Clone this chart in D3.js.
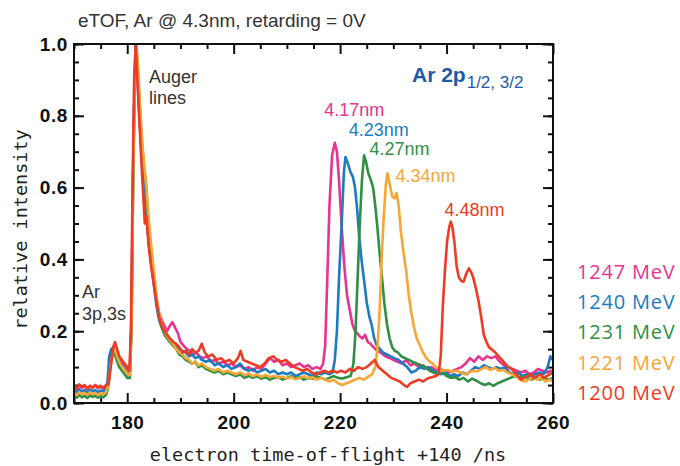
<!DOCTYPE html>
<html>
<head>
<meta charset="utf-8">
<script src="https://d3js.org/d3.v7.min.js"></script>
<style>
body { margin: 0; background: #fff; }
.tick text { font-family: "Liberation Sans", Arial, sans-serif; font-weight: bold; font-size: 19px; fill: #111; letter-spacing: 0.6px; }
.axis path { display: none; }
.axis line { stroke: #111; stroke-width: 2; }
</style>
</head>
<body>
<svg width="680" height="466"></svg>
<script>
'use strict';

// energies / wavelengths, one per trace
const energies = ["1247 MeV", "1240 MeV", "1231 MeV", "1221 MeV", "1200 MeV"];
const wavelengths = ["4.17nm", "4.23nm", "4.27nm", "4.34nm", "4.48nm"];
const colors = ["#e6348f", "#1c7bc1", "#2f8f44", "#f8a635", "#ec3c24"];

const xTicks = [180, 200, 220, 240, 260];
const yTicks = [0.0, 0.2, 0.4, 0.6, 0.8, 1.0];

// traces: [time-of-flight, relative intensity]
const trace1247 = [[170,0.045],[170.5,0.038],[171,0.05],[171.5,0.042],[172,0.047],[172.5,0.04],[173,0.048],[173.5,0.043],[174,0.05],[174.5,0.041],[175,0.046],[175.5,0.04],[176,0.047],[176.4,0.05],[176.8,0.11],[177.1,0.145],[177.5,0.16],[177.9,0.14],[178.3,0.125],[178.8,0.115],[179.2,0.11],[179.7,0.1],[180.1,0.09],[180.5,0.09],[180.8,0.25],[181.1,0.65],[181.4,0.92],[181.6,1.0],[181.9,0.92],[182.3,0.8],[182.7,0.69],[183.1,0.63],[183.5,0.55],[184,0.46],[184.5,0.4],[185,0.34],[185.5,0.29],[186,0.25],[186.5,0.23],[187,0.215],[187.5,0.2],[188,0.215],[188.5,0.225],[189,0.21],[189.5,0.195],[190,0.17],[190.6,0.16],[191.2,0.15],[191.8,0.145],[192.4,0.135],[193,0.14],[193.6,0.13],[194.2,0.125],[195,0.13],[195.7,0.115],[196.4,0.12],[197.2,0.11],[198,0.115],[198.8,0.105],[199.6,0.11],[200.4,0.1],[201.2,0.105],[202,0.095],[202.8,0.1],[203.6,0.09],[204.4,0.1],[205.2,0.095],[206,0.11],[206.8,0.125],[207.6,0.115],[208.4,0.12],[209.2,0.105],[210,0.11],[210.8,0.1],[211.6,0.105],[212.4,0.11],[213.2,0.1],[214,0.105],[214.8,0.095],[215.6,0.1],[216.3,0.095],[216.8,0.11],[217.2,0.16],[217.6,0.35],[218,0.55],[218.5,0.69],[219,0.725],[219.4,0.7],[219.8,0.62],[220.3,0.49],[220.8,0.38],[221.3,0.3],[221.8,0.26],[222.3,0.22],[222.8,0.2],[223.2,0.195],[223.7,0.185],[224.2,0.18],[224.7,0.19],[225.2,0.17],[225.7,0.165],[226.3,0.155],[227,0.145],[227.7,0.14],[228.5,0.13],[229.3,0.125],[230,0.12],[230.8,0.115],[231.6,0.11],[232.4,0.12],[233.2,0.105],[234,0.11],[234.8,0.1],[235.6,0.105],[236.4,0.095],[237.2,0.1],[238,0.09],[238.8,0.095],[239.6,0.09],[240.4,0.085],[241.2,0.09],[242,0.095],[242.8,0.1],[243.6,0.11],[244.4,0.125],[245.2,0.115],[246,0.13],[246.8,0.12],[247.6,0.13],[248.4,0.125],[249.2,0.13],[250,0.115],[250.8,0.105],[251.6,0.1],[252.4,0.095],[253.2,0.09],[254,0.085],[254.8,0.09],[255.6,0.08],[256.4,0.085],[257.2,0.095],[258,0.09],[258.8,0.085],[259.6,0.09],[260,0.085]];

const trace1240 = [[170,0.035],[170.5,0.03],[171,0.038],[171.5,0.032],[172,0.036],[172.5,0.03],[173,0.037],[173.5,0.033],[174,0.036],[174.5,0.03],[175,0.035],[175.5,0.032],[176,0.04],[176.3,0.06],[176.6,0.13],[177,0.15],[177.4,0.155],[177.8,0.14],[178.2,0.125],[178.7,0.11],[179.2,0.1],[179.7,0.09],[180.1,0.08],[180.5,0.085],[180.8,0.22],[181.1,0.62],[181.4,0.9],[181.6,1.0],[181.9,0.93],[182.3,0.8],[182.7,0.69],[183.1,0.62],[183.5,0.54],[184,0.46],[184.5,0.39],[185,0.33],[185.5,0.27],[186,0.23],[186.5,0.21],[187,0.2],[187.5,0.19],[188,0.18],[188.6,0.17],[189.2,0.16],[189.8,0.15],[190.4,0.145],[191,0.14],[191.6,0.13],[192.2,0.135],[192.8,0.125],[193.4,0.13],[194,0.12],[194.8,0.115],[195.6,0.12],[196.4,0.105],[197.2,0.11],[198,0.1],[198.8,0.105],[199.6,0.095],[200.4,0.1],[201.2,0.11],[202,0.095],[202.8,0.09],[203.6,0.095],[204.4,0.085],[205.2,0.09],[206,0.095],[206.8,0.085],[207.6,0.09],[208.4,0.08],[209.2,0.085],[210,0.08],[210.8,0.085],[211.6,0.075],[212.4,0.08],[213.2,0.085],[214,0.08],[214.8,0.075],[215.6,0.085],[216.4,0.08],[217.2,0.085],[218,0.08],[218.6,0.085],[219,0.12],[219.4,0.2],[219.8,0.35],[220.3,0.5],[220.7,0.64],[221,0.685],[221.4,0.67],[221.9,0.645],[222.4,0.63],[222.8,0.6],[223.2,0.54],[223.6,0.46],[224.1,0.39],[224.6,0.33],[225,0.28],[225.5,0.24],[225.9,0.22],[226.4,0.18],[226.9,0.16],[227.5,0.15],[228.1,0.14],[228.8,0.135],[229.5,0.13],[230.2,0.125],[231,0.12],[231.8,0.11],[232.6,0.1],[233.4,0.085],[234.2,0.09],[235,0.1],[235.8,0.095],[236.6,0.1],[237.4,0.09],[238.2,0.085],[239,0.08],[239.8,0.085],[240.6,0.075],[241.4,0.08],[242.2,0.075],[243,0.085],[243.8,0.08],[244.6,0.09],[245.4,0.1],[246.2,0.095],[247,0.105],[247.8,0.1],[248.6,0.095],[249.4,0.1],[250.2,0.095],[251,0.1],[251.8,0.085],[252.6,0.08],[253.4,0.085],[254.2,0.075],[255,0.08],[255.8,0.075],[256.6,0.08],[257.4,0.085],[258.2,0.08],[259,0.1],[259.5,0.13],[260,0.12]];

const trace1231 = [[170,0.02],[170.5,0.015],[171,0.022],[171.5,0.016],[172,0.02],[172.5,0.014],[173,0.021],[173.5,0.017],[174,0.02],[174.5,0.015],[175,0.019],[175.5,0.016],[176,0.022],[176.4,0.04],[176.8,0.1],[177.2,0.13],[177.6,0.14],[178,0.12],[178.5,0.1],[179,0.09],[179.5,0.08],[180,0.07],[180.5,0.07],[180.8,0.2],[181.1,0.6],[181.4,0.9],[181.7,1.0],[182,0.93],[182.4,0.82],[182.8,0.72],[183.2,0.65],[183.5,0.62],[184,0.5],[184.5,0.42],[185,0.35],[185.5,0.29],[186,0.24],[186.5,0.21],[187,0.19],[187.5,0.18],[188,0.17],[188.6,0.16],[189.2,0.15],[189.8,0.135],[190.4,0.13],[191,0.12],[191.6,0.115],[192.2,0.11],[192.8,0.115],[193.4,0.1],[194,0.105],[194.8,0.095],[195.6,0.09],[196.4,0.085],[197.2,0.09],[198,0.08],[198.8,0.085],[199.6,0.08],[200.4,0.075],[201.2,0.08],[202,0.07],[202.8,0.075],[203.6,0.07],[204.4,0.075],[205.2,0.068],[206,0.072],[206.8,0.065],[207.6,0.07],[208.4,0.072],[209.2,0.065],[210,0.07],[210.8,0.075],[211.6,0.068],[212.4,0.072],[213.2,0.065],[214,0.07],[214.8,0.068],[215.6,0.075],[216.4,0.07],[217.2,0.065],[218,0.07],[218.8,0.075],[219.6,0.07],[220.4,0.068],[221.2,0.072],[222,0.075],[222.5,0.11],[222.9,0.2],[223.3,0.35],[223.7,0.5],[224.1,0.62],[224.5,0.69],[224.9,0.67],[225.3,0.64],[225.8,0.62],[226.2,0.6],[226.6,0.55],[227,0.49],[227.4,0.42],[227.8,0.36],[228.3,0.28],[228.8,0.22],[229.3,0.18],[229.8,0.155],[230.3,0.145],[230.9,0.14],[231.5,0.13],[232.2,0.125],[232.9,0.12],[233.6,0.115],[234.4,0.11],[235.2,0.105],[236,0.1],[236.8,0.09],[237.6,0.085],[238.4,0.08],[239.2,0.085],[240,0.075],[240.8,0.07],[241.6,0.072],[242.4,0.065],[243.2,0.07],[244,0.06],[244.8,0.068],[245.6,0.062],[246.4,0.055],[247.2,0.05],[248,0.055],[248.8,0.048],[249.6,0.055],[250.4,0.06],[251.2,0.065],[252,0.07],[252.8,0.075],[253.6,0.07],[254.4,0.075],[255.2,0.07],[256,0.065],[256.8,0.07],[257.6,0.065],[258.4,0.07],[259.2,0.065],[260,0.07]];

const trace1221 = [[170,0.028],[170.5,0.022],[171,0.03],[171.5,0.024],[172,0.028],[172.5,0.022],[173,0.03],[173.5,0.025],[174,0.028],[174.5,0.022],[175,0.027],[175.5,0.024],[176,0.03],[176.5,0.05],[176.9,0.11],[177.3,0.14],[177.7,0.15],[178.1,0.13],[178.6,0.11],[179.1,0.1],[179.6,0.09],[180.1,0.08],[180.5,0.078],[180.8,0.2],[181.1,0.6],[181.4,0.88],[181.7,1.0],[182,0.94],[182.4,0.83],[182.8,0.73],[183.2,0.66],[183.6,0.6],[184,0.52],[184.5,0.44],[185,0.37],[185.5,0.3],[186,0.25],[186.5,0.22],[187,0.2],[187.5,0.185],[188,0.175],[188.6,0.165],[189.2,0.15],[189.8,0.14],[190.4,0.135],[191,0.125],[191.6,0.12],[192.2,0.11],[192.8,0.115],[193.4,0.105],[194,0.11],[194.8,0.1],[195.6,0.095],[196.4,0.09],[197.2,0.095],[198,0.085],[198.8,0.09],[199.6,0.085],[200.4,0.08],[201.2,0.085],[202,0.078],[202.8,0.082],[203.6,0.075],[204.4,0.08],[205.2,0.073],[206,0.078],[206.8,0.072],[207.6,0.076],[208.4,0.07],[209.2,0.074],[210,0.068],[210.8,0.072],[211.6,0.066],[212.4,0.07],[213.2,0.075],[214,0.068],[214.8,0.072],[215.6,0.065],[216.4,0.07],[217.2,0.065],[218,0.06],[218.8,0.065],[219.6,0.055],[220.4,0.05],[221.2,0.055],[222,0.06],[222.8,0.065],[223.6,0.07],[224.4,0.065],[225.2,0.072],[226,0.08],[226.6,0.1],[227,0.15],[227.4,0.25],[227.8,0.4],[228.2,0.52],[228.6,0.61],[228.9,0.64],[229.3,0.61],[229.8,0.575],[230.2,0.57],[230.6,0.585],[231,0.55],[231.4,0.48],[231.9,0.42],[232.4,0.37],[232.9,0.3],[233.4,0.25],[233.9,0.21],[234.4,0.18],[235,0.16],[235.6,0.14],[236.2,0.125],[236.8,0.115],[237.4,0.11],[238,0.1],[238.6,0.095],[239.4,0.09],[240.2,0.092],[241,0.088],[241.8,0.09],[242.6,0.085],[243.4,0.08],[244.2,0.085],[245,0.09],[245.8,0.088],[246.6,0.095],[247.4,0.1],[248.2,0.092],[249,0.098],[249.8,0.09],[250.6,0.092],[251.4,0.085],[252.2,0.08],[253,0.075],[253.8,0.065],[254.6,0.06],[255.4,0.065],[256.2,0.07],[257,0.065],[257.8,0.07],[258.6,0.06],[259.4,0.065],[260,0.06]];

const trace1200 = [[170,0.05],[170.5,0.042],[171,0.052],[171.5,0.045],[172,0.05],[172.5,0.04],[173,0.048],[173.5,0.042],[174,0.05],[174.5,0.044],[175,0.048],[175.5,0.042],[176,0.05],[176.5,0.052],[176.9,0.1],[177.3,0.15],[177.7,0.17],[178.1,0.15],[178.5,0.13],[179,0.12],[179.5,0.11],[180,0.1],[180.4,0.09],[180.7,0.2],[181,0.6],[181.3,0.9],[181.6,1.0],[181.9,0.9],[182.3,0.78],[182.7,0.66],[183,0.58],[183.3,0.5],[183.6,0.52],[184,0.44],[184.5,0.38],[185,0.33],[185.5,0.28],[186,0.24],[186.5,0.215],[187,0.2],[187.5,0.19],[188,0.18],[188.6,0.17],[189.2,0.165],[189.8,0.155],[190.4,0.14],[191,0.145],[191.6,0.135],[192.2,0.15],[192.8,0.14],[193.4,0.145],[194,0.165],[194.6,0.14],[195.2,0.13],[196,0.135],[196.8,0.12],[197.6,0.125],[198.4,0.115],[199.2,0.12],[200,0.11],[200.8,0.125],[201.3,0.145],[201.8,0.12],[202.6,0.115],[203.4,0.11],[204.2,0.105],[205,0.1],[205.8,0.11],[206.6,0.125],[207.4,0.13],[208.2,0.12],[209,0.115],[209.8,0.12],[210.6,0.11],[211.4,0.1],[212.2,0.095],[213,0.09],[213.8,0.095],[214.6,0.085],[215.4,0.08],[216.2,0.085],[217,0.09],[217.8,0.085],[218.6,0.09],[219.4,0.085],[220.2,0.09],[221,0.085],[221.8,0.095],[222.6,0.09],[223.4,0.1],[224.2,0.095],[225,0.1],[225.8,0.11],[226.5,0.12],[227.2,0.1],[228,0.09],[228.8,0.08],[229.6,0.07],[230.4,0.065],[231.2,0.06],[232,0.05],[232.6,0.045],[233.2,0.055],[234,0.06],[234.8,0.065],[235.6,0.06],[236.4,0.068],[237.2,0.072],[238,0.075],[238.5,0.08],[238.9,0.13],[239.3,0.27],[239.7,0.37],[240.1,0.45],[240.5,0.49],[240.8,0.505],[241.1,0.49],[241.5,0.445],[241.9,0.38],[242.3,0.35],[242.8,0.34],[243.2,0.338],[243.7,0.36],[244.2,0.375],[244.6,0.365],[245,0.35],[245.5,0.32],[246,0.285],[246.5,0.24],[247,0.19],[247.5,0.17],[248,0.155],[248.6,0.148],[249.2,0.14],[249.8,0.13],[250.4,0.12],[251,0.11],[251.6,0.1],[252.2,0.095],[252.8,0.085],[253.4,0.075],[254,0.065],[254.6,0.07],[255.2,0.075],[255.8,0.08],[256.4,0.07],[257,0.075],[257.6,0.08],[258.2,0.07],[258.8,0.075],[259.4,0.08],[260,0.085]];

const traces = [trace1247, trace1240, trace1231, trace1221, trace1200];

// label anchors for the wavelength tags, in data units
const tagTimes = [217.0, 221.6, 225.5, 230.4, 239.6];
const tagValues = [0.80, 0.745, 0.69, 0.615, 0.52];

var svg = d3.select("svg");

var x = d3.scaleLinear().domain([170, 260]).range([74, 553]);
var y = d3.scaleLinear().domain([0, 1]).range([403, 44]);

// clip so the clipped auger peak stops at the frame
svg.append("clipPath").attr("id", "plot-clip")
    .append("rect")
    .attr("x", x(170)).attr("y", y(1))
    .attr("width", x(260) - x(170)).attr("height", y(0) - y(1));

// ticks: all inward, major every 20 (x) / 0.2 (y), minor every 5 / 0.05
var xMinor = d3.range(170, 261, 5).filter(function (d) { return xTicks.indexOf(d) < 0; });
var yMinor = d3.range(0, 21).map(function (i) { return i / 20; });

function addAxis(axis, tx, ty) {
    svg.append("g").attr("class", "axis")
        .attr("transform", "translate(" + tx + "," + ty + ")")
        .call(axis);
}

addAxis(d3.axisBottom(x).tickValues(xTicks).tickSize(-10).tickSizeOuter(0).tickPadding(13).tickFormat(d3.format("d")), 0, y(0));
addAxis(d3.axisBottom(x).tickValues(xMinor).tickSize(-5).tickSizeOuter(0).tickFormat(""), 0, y(0));
addAxis(d3.axisTop(x).tickValues(xTicks).tickSize(-10).tickSizeOuter(0).tickFormat(""), 0, y(1));
addAxis(d3.axisTop(x).tickValues(xMinor).tickSize(-5).tickSizeOuter(0).tickFormat(""), 0, y(1));
addAxis(d3.axisLeft(y).tickValues(yTicks).tickSize(-10).tickSizeOuter(0).tickPadding(6).tickFormat(d3.format(".1f")), x(170), 0);
addAxis(d3.axisLeft(y).tickValues(yMinor).tickSize(-5).tickSizeOuter(0).tickFormat(""), x(170), 0);
addAxis(d3.axisRight(y).tickValues(yTicks).tickSize(-10).tickSizeOuter(0).tickFormat(""), x(260), 0);
addAxis(d3.axisRight(y).tickValues(yMinor).tickSize(-5).tickSizeOuter(0).tickFormat(""), x(260), 0);

// the traces
var line = d3.line()
    .x(function (d) { return x(d[0]); })
    .y(function (d) { return y(d[1]); });

svg.append("g").attr("clip-path", "url(#plot-clip)")
    .selectAll("path")
    .data(traces)
    .enter().append("path")
    .attr("d", line)
    .attr("fill", "none")
    .attr("stroke", function (d, i) { return colors[i]; })
    .attr("stroke-width", 2.6)
    .attr("stroke-linejoin", "round");

// frame
svg.append("rect")
    .attr("x", x(170)).attr("y", y(1))
    .attr("width", x(260) - x(170)).attr("height", y(0) - y(1))
    .attr("fill", "none").attr("stroke", "#111").attr("stroke-width", 2);

// title and axis titles
svg.append("text")
    .attr("x", 78).attr("y", 27)
    .style("font-family", "'Liberation Sans', Arial, sans-serif")
    .style("font-size", "19px").style("fill", "#333")
    .text("eTOF, Ar @ 4.3nm, retarding = 0V");

svg.append("text")
    .attr("x", 328).attr("y", 461)
    .attr("text-anchor", "middle")
    .style("font-family", "'DejaVu Sans Mono', monospace")
    .style("font-size", "18.5px").style("fill", "#222")
    .text("electron time-of-flight +140 /ns");

svg.append("text")
    .attr("transform", "translate(27," + (y(0.5) + 6) + ") rotate(-90)")
    .attr("text-anchor", "middle")
    .style("font-family", "'DejaVu Sans Mono', monospace")
    .style("font-size", "18.5px").style("fill", "#222")
    .text("relative intensity");

// annotations
var note = svg.append("g")
    .style("font-family", "'Liberation Sans', Arial, sans-serif")
    .style("font-size", "18px").style("fill", "#333");
note.append("text").attr("x", 149).attr("y", 83).text("Auger");
note.append("text").attr("x", 149).attr("y", 104).text("lines");
note.append("text").attr("x", 82).attr("y", 298).text("Ar");
note.append("text").attr("x", 82).attr("y", 320).text("3p,3s");

var ar2p = svg.append("text")
    .attr("x", 412).attr("y", 82)
    .style("font-family", "'Liberation Sans', Arial, sans-serif")
    .style("fill", "#1d5aa6");
ar2p.append("tspan").style("font-size", "21px").style("font-weight", "bold").text("Ar 2p");
ar2p.append("tspan").attr("dy", 6).attr("dx", 1).style("font-size", "17px").text("1/2, 3/2");

svg.append("g").selectAll("text")
    .data(wavelengths)
    .enter().append("text")
    .attr("x", function (d, i) { return x(tagTimes[i]); })
    .attr("y", function (d, i) { return y(tagValues[i]); })
    .style("font-family", "'Liberation Sans', Arial, sans-serif")
    .style("font-size", "18px")
    .style("fill", function (d, i) { return colors[i]; })
    .text(function (d) { return d; });

// energy legend on the right
svg.append("g").selectAll("text")
    .data(energies)
    .enter().append("text")
    .attr("x", 577)
    .attr("y", function (d, i) { return 279 + i * 30.2; })
    .style("font-family", "'Open Sans', sans-serif")
    .style("font-size", "20px")
    .style("letter-spacing", "0.8px")
    .style("fill", function (d, i) { return colors[i]; })
    .text(function (d) { return d; });
</script>
</body>
</html>
